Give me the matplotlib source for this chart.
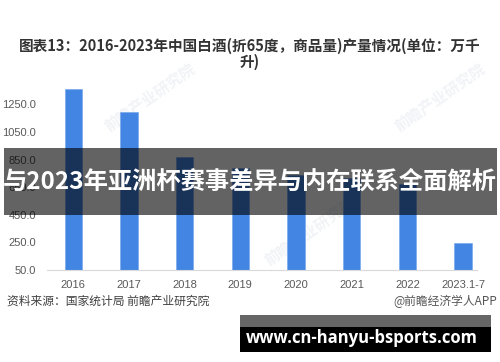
import matplotlib.pyplot as plt
from matplotlib.patches import Rectangle

plt.rcParams['font.family'] = ['Noto Sans CJK SC', 'DejaVu Sans']

# 数据 (单位: 万千升)
years = ['2016', '2017', '2018', '2019', '2020', '2021', '2022', '2023.1-7']
output = [1358.4, 1198.1, 871.2, 785.9, 740.7, 715.6, 671.2, 242.6]
yticks = [50, 250, 450, 650, 850, 1050, 1250]

fig = plt.figure(figsize=(5, 3.62), dpi=100, facecolor='white')
ax = fig.add_axes([0.094, 0.254, 0.86, 0.53])
ax.patch.set_alpha(0)

x = range(len(years))
ax.bar(x, output, bottom=0, width=0.31, color='#4285e2', edgecolor='#6fa3ec',
       linewidth=0.4, zorder=2)

ax.set_ylim(50, 1440)
ax.set_xlim(-0.47, 7.25)
ax.set_yticks(yticks)
ax.set_yticklabels([f'{v:.1f}' for v in yticks])
ax.set_xticks(list(x))
ax.set_xticklabels(years)
ax.tick_params(axis='both', length=0, colors='#595959', labelsize=8)
ax.tick_params(axis='x', pad=7)
ax.tick_params(axis='y', pad=8)
for lbl in ax.get_xticklabels() + ax.get_yticklabels():
    lbl.set_family(['Liberation Sans', 'DejaVu Sans'])

for s in ['top', 'right', 'left']:
    ax.spines[s].set_visible(False)
ax.spines['bottom'].set_color('#d9d9d9')
ax.spines['bottom'].set_linewidth(0.8)

# 水印 (很淡, 在柱子下面)
for wx, wy in [(0.30, 0.73), (0.88, 0.73), (0.62, 0.36)]:
    fig.text(wx, wy, '前瞻产业研究院', fontsize=11, color='#f1f3f7', rotation=35,
             ha='center', va='center', fontweight='bold', zorder=-1)

# 标题
fig.text(0.5, 1 - 46 / 362, '图表13：2016-2023年中国白酒(折65度，商品量)产量情况(单位：万千',
         ha='center', va='center', fontsize=10.5, fontweight='bold', color='#333333')
fig.text(0.5, 1 - 62 / 362, '升)', ha='center', va='center', fontsize=10.5,
         fontweight='bold', color='#333333')

# 来源
fig.text(0.014, 1 - 301 / 362, '资料来源：国家统计局 前瞻产业研究院', ha='left', va='center',
         fontsize=8.5, color='#404040')
fig.text(0.994, 1 - 301 / 362, '@前瞻经济学人APP', ha='right', va='center',
         fontsize=8.5, color='#555555')

# 横幅覆盖
fig.patches.append(Rectangle((4 / 500, 1 - 215 / 362), 493 / 500, 67 / 362,
                             transform=fig.transFigure, facecolor='black',
                             alpha=0.61, zorder=5))
fig.text(0.5, 1 - 182 / 362, '与2023年亚洲杯赛事差异与内在联系全面解析', ha='center',
         va='center', fontsize=17.5, fontweight='bold', color='white', zorder=6)

# 底部网址框
fig.patches.append(Rectangle((240 / 500, 1 - 327 / 362), 251 / 500, 12 / 362,
                             transform=fig.transFigure, facecolor='#666666', zorder=5))
fig.patches.append(Rectangle((240 / 500, 1 - 352 / 362), 251 / 500, 25 / 362,
                             transform=fig.transFigure, facecolor='black', zorder=5))
fig.text(362 / 500, 1 - 338 / 362, 'www.cn-hanyu-bsports.com', ha='center', va='center',
         fontsize=12, fontweight='bold', color='white', family=['Open Sans', 'DejaVu Sans'],
         zorder=6)

fig.savefig('out.png', dpi=100, facecolor='white')
